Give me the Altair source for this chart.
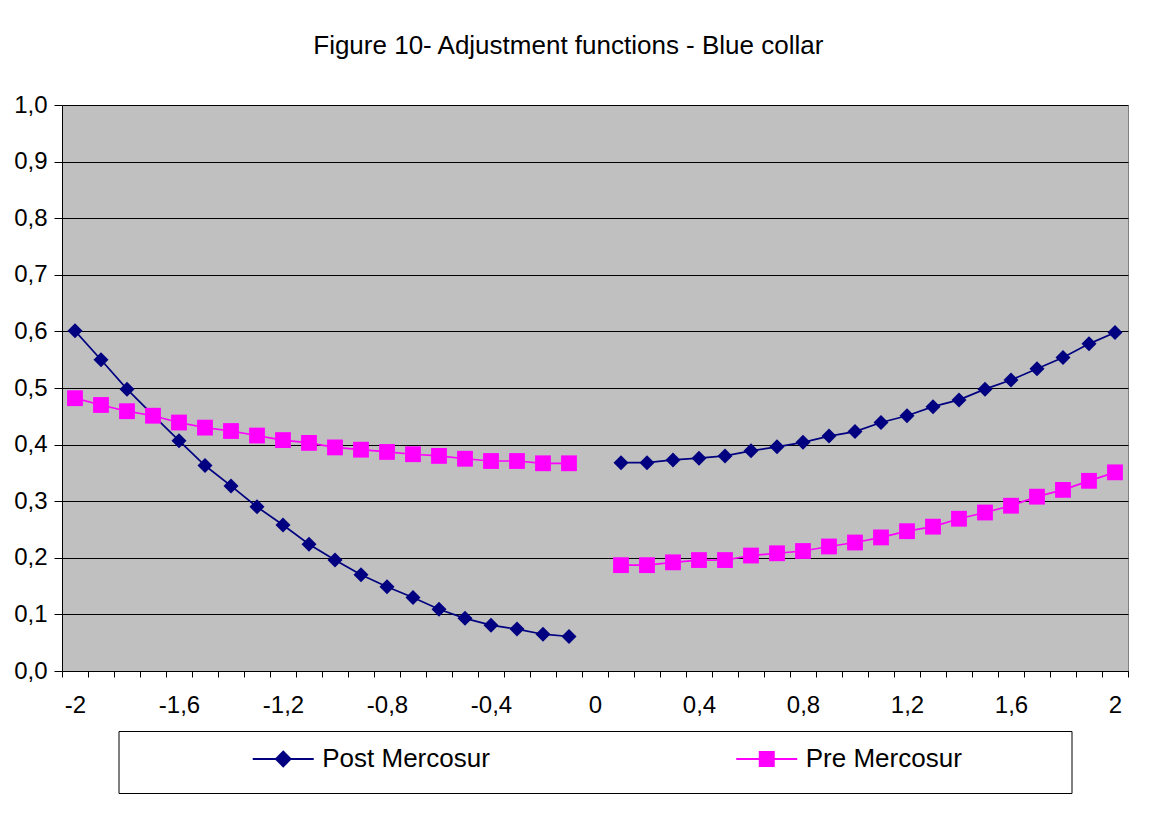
import altair as alt
import pandas as pd

FONT = "Liberation Sans, Arial, sans-serif"

# ---- data ----
series_names = ["Post Mercosur", "Pre Mercosur"]
series_colors = ["#000080", "#FF00FF"]

x_left = [-2.0, -1.9, -1.8, -1.7, -1.6, -1.5, -1.4, -1.3, -1.2, -1.1,
          -1.0, -0.9, -0.8, -0.7, -0.6, -0.5, -0.4, -0.3, -0.2, -0.1]
x_right = [0.1, 0.2, 0.3, 0.4, 0.5, 0.6, 0.7, 0.8, 0.9, 1.0,
           1.1, 1.2, 1.3, 1.4, 1.5, 1.6, 1.7, 1.8, 1.9, 2.0]

post_left = [0.601, 0.550, 0.498, 0.452, 0.407, 0.363, 0.327, 0.290, 0.258, 0.224,
             0.196, 0.170, 0.149, 0.130, 0.109, 0.093, 0.081, 0.074, 0.065, 0.061]
post_right = [0.368, 0.368, 0.373, 0.376, 0.380, 0.389, 0.396, 0.404, 0.415, 0.423,
              0.439, 0.451, 0.467, 0.479, 0.498, 0.514, 0.534, 0.554, 0.578, 0.598]
pre_left = [0.482, 0.470, 0.459, 0.451, 0.439, 0.430, 0.424, 0.416, 0.408, 0.403,
            0.395, 0.391, 0.387, 0.383, 0.380, 0.375, 0.371, 0.371, 0.367, 0.367]
pre_right = [0.187, 0.187, 0.192, 0.196, 0.196, 0.204, 0.208, 0.212, 0.220, 0.227,
             0.236, 0.247, 0.255, 0.269, 0.280, 0.292, 0.308, 0.320, 0.336, 0.351]

# category axis: -2 ... 2 in steps of 0.1 (41 categories, ticks between them)
categories = [-2.0, -1.9, -1.8, -1.7, -1.6, -1.5, -1.4, -1.3, -1.2, -1.1, -1.0,
              -0.9, -0.8, -0.7, -0.6, -0.5, -0.4, -0.3, -0.2, -0.1, 0.0,
              0.1, 0.2, 0.3, 0.4, 0.5, 0.6, 0.7, 0.8, 0.9, 1.0,
              1.1, 1.2, 1.3, 1.4, 1.5, 1.6, 1.7, 1.8, 1.9, 2.0]
y_ticks = [0.0, 0.1, 0.2, 0.3, 0.4, 0.5, 0.6, 0.7, 0.8, 0.9, 1.0]

title_text = "Figure 10- Adjustment functions - Blue collar"

# ---- build table ----
rows = []
for xs, vs, name, part in [
    (x_left, post_left, series_names[0], "left"),
    (x_right, post_right, series_names[0], "right"),
    (x_left, pre_left, series_names[1], "left"),
    (x_right, pre_right, series_names[1], "right"),
]:
    for xv, yv in zip(xs, vs):
        rows.append({"x": xv, "value": yv, "series": name, "part": part})
df = pd.DataFrame(rows)

half = 0.05
x_tick_bounds = [round(c - half, 2) for c in categories] + [round(categories[-1] + half, 2)]

W, H = 1066, 566
cat_px = W / len(categories)

label_expr = (
    "(round(datum.value*10 + 0.5) % 4 == 0) ? "
    "(round(datum.value*10 + 0.5) == 0 ? '0' : "
    "((round(datum.value*10 + 0.5) < 0 ? '-' : '') + "
    "replace('' + abs(round(datum.value*10 + 0.5))/10, '.', ','))) : ''"
)

x_enc = alt.X(
    "x:Q",
    scale=alt.Scale(domain=[x_tick_bounds[0], x_tick_bounds[-1]], nice=False, zero=False),
    axis=alt.Axis(
        values=x_tick_bounds, labelExpr=label_expr, labelOffset=cat_px / 2,
        labelFlush=False, labelOverlap=False, tickSize=6, labelPadding=16,
        grid=False, domainColor="black", tickColor="black", title=None,
    ),
)
y_enc = alt.Y(
    "value:Q",
    scale=alt.Scale(domain=[0, 1], nice=False),
    axis=alt.Axis(
        values=y_ticks, labelExpr="replace(format(datum.value, '.1f'), '.', ',')",
        tickSize=8, labelPadding=7, grid=True, gridColor="black", gridWidth=1,
        gridOpacity=1, domainColor="black", tickColor="black", title=None,
    ),
)
color_enc = alt.Color("series:N", scale=alt.Scale(domain=series_names, range=series_colors), legend=None)
shape_enc = alt.Shape("series:N", scale=alt.Scale(domain=series_names, range=["diamond", "square"]), legend=None)

lines = alt.Chart(df).mark_line(strokeWidth=1.7).encode(
    x=x_enc, y=y_enc, color=color_enc, detail="part:N", order="x:Q"
)
points = alt.Chart(df).mark_point(filled=True, opacity=1).encode(
    x=x_enc, y=y_enc, color=color_enc, shape=shape_enc,
    size=alt.Size("series:N", scale=alt.Scale(domain=series_names, range=[225, 250]), legend=None),
)
main = alt.layer(lines, points).properties(
    width=W, height=H,
    view=alt.ViewBackground(fill="#C0C0C0", stroke="#808080", strokeWidth=1),
)

# ---- legend panel ----
leg_df = pd.DataFrame({"series": series_names})
leg_x = alt.X("series:N", scale=alt.Scale(type="point", domain=series_names, padding=0.4855), axis=None)
leg_line = alt.Chart(leg_df).mark_point(shape="stroke", size=61 * 61, strokeWidth=2, filled=False, opacity=1, xOffset=-70).encode(
    x=leg_x, y=alt.value(28), color=color_enc
)
leg_mark = alt.Chart(leg_df).mark_point(filled=True, opacity=1, xOffset=-70).encode(
    x=leg_x, y=alt.value(28), color=color_enc, shape=shape_enc,
    size=alt.Size("series:N", scale=alt.Scale(domain=series_names, range=[300, 256]), legend=None),
)
leg_text = alt.Chart(leg_df).mark_text(align="left", baseline="middle", xOffset=-31, fontSize=26, font=FONT, color="black").encode(
    x=leg_x, y=alt.value(28), text="series:N"
)
legend_panel = alt.layer(leg_line, leg_mark, leg_text).properties(
    width=953, height=62,
    view=alt.ViewBackground(fill="white", stroke="black", strokeWidth=1),
)

chart = alt.vconcat(main, legend_panel, spacing=60, bounds="flush", center=True).resolve_scale(
    color="independent", shape="independent", size="independent"
).properties(
    title=alt.Title(title_text, fontSize=26, fontWeight="normal", font=FONT, color="black",
                    anchor="middle", offset=34, dx=-9),
    padding={"left": 5, "top": 24, "right": 5, "bottom": 5},
    background="white",
).configure_axis(
    labelFont=FONT, labelFontSize=24, labelColor="black",
)

chart.save("out.html", embed_options={"renderer": "svg", "actions": False})
